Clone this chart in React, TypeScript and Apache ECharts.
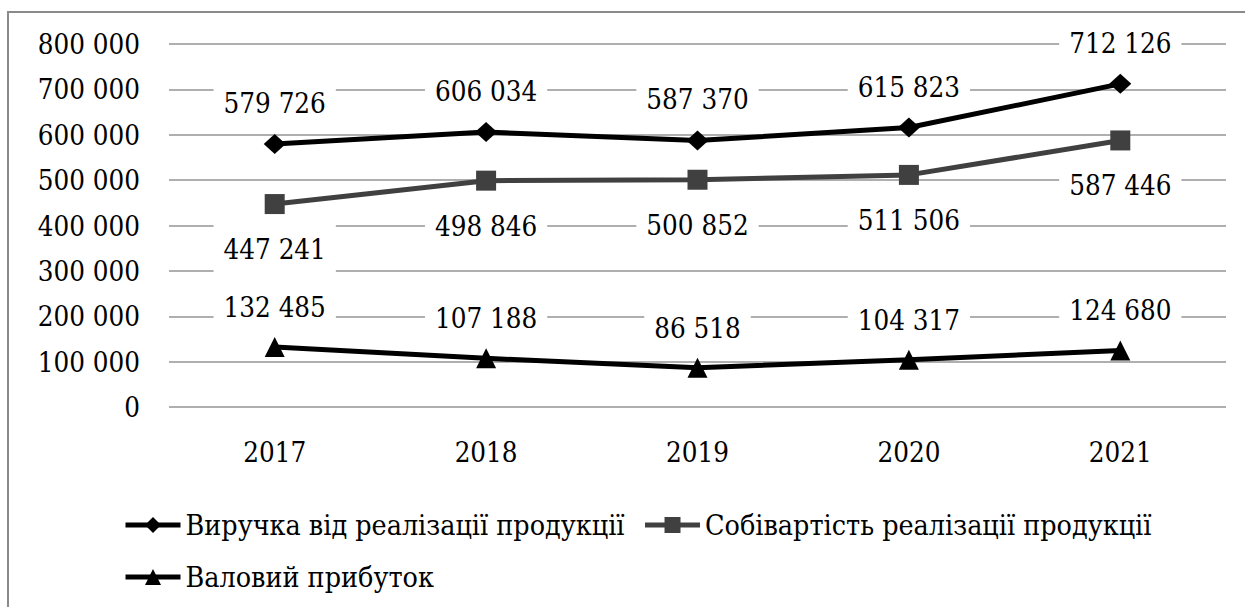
import React, { useEffect, useRef } from "react";
import * as echarts from "echarts";

const years = ["2017", "2018", "2019", "2020", "2021"];
const revenue = [579726, 606034, 587370, 615823, 712126];
const cost = [447241, 498846, 500852, 511506, 587446];
const grossProfit = [132485, 107188, 86518, 104317, 124680];
const seriesNames = [
  "Виручка від реалізації продукції",
  "Собівартість реалізації продукції",
  "Валовий прибуток",
];

const FONT = "DejaVu Serif Condensed";
const FS = 27.5;
const fmt = (v: number) => String(v).replace(/\B(?=(\d{3})+(?!\d))/g, " ");

const labelBase = {
  show: true,
  fontFamily: FONT,
  fontSize: FS,
  color: "#000",
  backgroundColor: "#fff",
  padding: [7, 10],
  lineHeight: 34,
  formatter: (p: any) => fmt(p.value),
};

export default function App() {
  const ref = useRef<HTMLDivElement>(null);
  useEffect(() => {
    if (!ref.current) return;
    const chart = echarts.init(ref.current, undefined, { renderer: "svg" });
    chart.setOption({
      animation: false,
      backgroundColor: "#fff",
      graphic: [
        {
          type: "rect",
          shape: { x: 8, y: 12, width: 1400, height: 800 },
          style: { fill: "none", stroke: "#8a8a8a", lineWidth: 2 },
          silent: true,
        },
      ],
      grid: { left: 169, right: 19, top: 44, bottom: 200, containLabel: false },
      xAxis: {
        type: "category",
        data: years,
        boundaryGap: true,
        axisLine: { show: false },
        axisTick: { show: false },
        axisLabel: {
          fontFamily: FONT,
          fontSize: FS,
          color: "#000",
          margin: 28,
          lineHeight: 34,
        },
      },
      yAxis: {
        type: "value",
        min: 0,
        max: 800000,
        interval: 100000,
        axisLine: { show: false },
        axisTick: { show: false },
        splitLine: { lineStyle: { color: "#959595", width: 1.5 } },
        axisLabel: {
          fontFamily: FONT,
          fontSize: FS,
          color: "#000",
          margin: 29,
          formatter: (v: number) => fmt(v),
        },
      },
      legend: {
        left: 123,
        top: 508,
        width: 1062,
        padding: 0,
        itemWidth: 55,
        itemHeight: 20,
        itemGap: 18,
        lineStyle: { width: 5 },
        textStyle: { fontFamily: FONT, fontSize: 28.4, color: "#000", lineHeight: 34 },
        data: seriesNames,
      },
      series: [
        {
          name: seriesNames[0],
          type: "line",
          data: revenue,
          symbol: "diamond",
          symbolSize: [22, 20],
          lineStyle: { color: "#000", width: 5 },
          itemStyle: { color: "#000" },
          label: { ...labelBase, position: "top", distance: 7 },
        },
        {
          name: seriesNames[1],
          type: "line",
          data: cost,
          symbol: "rect",
          symbolSize: 20,
          lineStyle: { color: "#404040", width: 5 },
          itemStyle: { color: "#404040" },
          label: { ...labelBase, position: "bottom", distance: 11 },
        },
        {
          name: seriesNames[2],
          type: "line",
          data: grossProfit,
          symbol: "triangle",
          symbolSize: 20,
          lineStyle: { color: "#000", width: 5 },
          itemStyle: { color: "#000" },
          label: { ...labelBase, position: "top", distance: 6 },
        },
      ],
    });
    return () => chart.dispose();
  }, []);
  return (
    <div
      ref={ref}
      style={{ position: "absolute", left: 0, top: 0, width: 1245, height: 607 }}
    />
  );
}
